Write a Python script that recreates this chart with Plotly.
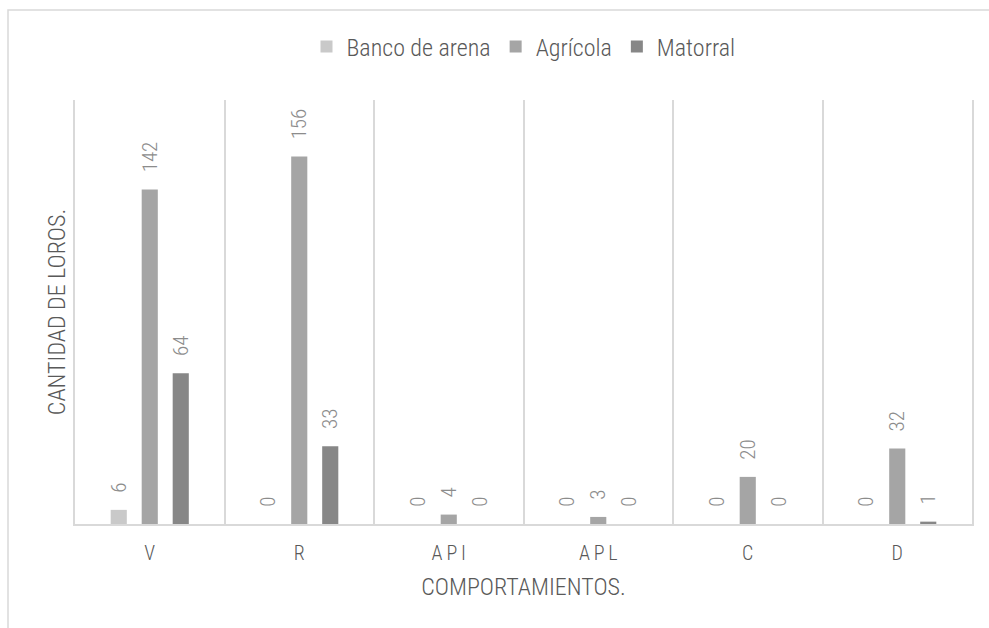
import plotly.graph_objects as go

categories = ["V", "R", "A\u2009P\u2009I", "A\u2009P\u2009L", "C", "D"]
banco = [6, 0, 0, 0, 0, 0]
agricola = [142, 156, 4, 3, 20, 32]
matorral = [64, 33, 0, 0, 0, 1]

series_names = ["Banco de arena", "Agrícola", "Matorral"]
series_values = [banco, agricola, matorral]
series_colors = ["#c9c9c9", "#a5a5a5", "#878787"]

FONT = "Liberation Sans Narrow, Arial Narrow, Roboto Condensed, sans-serif"
GRID = "#d9d9d9"

fig = go.Figure()
for name, vals, col in zip(series_names, series_values, series_colors):
    fig.add_trace(go.Bar(
        x=categories, y=vals, name=name,
        marker=dict(color=col, line=dict(width=0)),
        texttemplate="\u00a0\u00a0\u00a0%{y}",
        textposition="outside", textangle=-90,
        constraintext="none", cliponaxis=False,
        textfont=dict(family=FONT, size=21, color="#8c8c8c", weight=300),
    ))

fig.update_layout(
    width=989, height=628,
    margin=dict(l=75, r=17, t=100, b=104),
    paper_bgcolor="white", plot_bgcolor="white",
    barmode="group", bargap=0.378, bargroupgap=0.48,
    font=dict(family=FONT, color="#595959", weight=300),
    showlegend=True,
    legend=dict(orientation="h", x=0.5, xanchor="center", y=1.125, yanchor="middle",
                font=dict(size=24, color="#595959", weight=300), itemwidth=30,
                traceorder="normal"),
    xaxis=dict(
        tickson="boundaries", showgrid=True, gridcolor=GRID, gridwidth=1.5,
        showline=True, linecolor=GRID, linewidth=1.5,
        ticks="", ticklabelstandoff=10,
        tickfont=dict(size=20, color="#595959", weight=300),
        title=dict(text="COMPORTAMIENTOS.", font=dict(size=24, color="#595959", weight=300),
                   standoff=14),
    ),
    yaxis=dict(
        range=[0, 180], showgrid=False, zeroline=False, showticklabels=False,
        showline=True, mirror=True, linecolor=GRID, linewidth=1.5, ticks="",
        title=dict(text="CANTIDAD DE LOROS.", font=dict(size=24, color="#595959", weight=300),
                   standoff=1),
    ),
    shapes=[dict(type="rect", xref="paper", yref="paper",
                 x0=-0.0747, x1=1.06, y0=-0.6, y1=1.2123,
                 line=dict(color=GRID, width=1.5), fillcolor="rgba(0,0,0,0)", layer="below")],
)

fig.write_html("out.html")
